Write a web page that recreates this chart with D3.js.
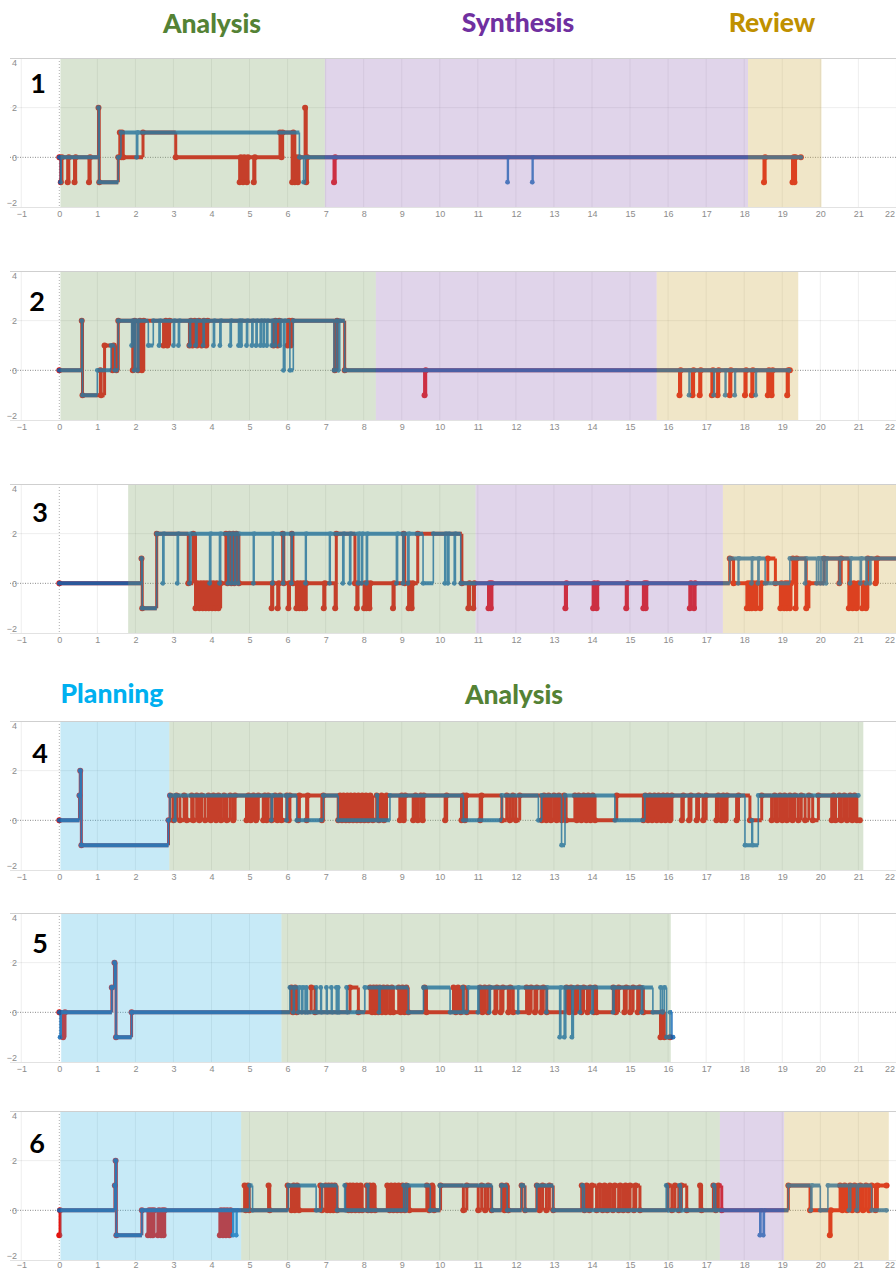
<!DOCTYPE html>
<html>
<head>
<meta charset="utf-8">
<script src="https://cdn.jsdelivr.net/npm/d3@7"></script>
<style>
  html, body { margin: 0; padding: 0; background: #fff; }
  svg { display: block; }
</style>
</head>
<body>
<svg id="chart" width="896" height="1272"></svg>
<script>
// ---- tick labels ----
const xTickLabels = [-1,0,1,2,3,4,5,6,7,8,9,10,11,12,13,14,15,16,17,18,19,20,21,22];
const yTickLabels = [4, 2, 0, -2];
const panelNames = ["1","2","3","4","5","6"];

// ---- phase spans per session: [phase, start, end] ----
const phases1 = [["Analysis",0.03,6.98],["Synthesis",6.98,18.1],["Review",18.1,20.03]];
const phases2 = [["Analysis",0.03,8.32],["Synthesis",8.32,15.7],["Review",15.7,19.42]];
const phases3 = [["Analysis",1.81,10.94],["Synthesis",10.94,17.44],["Review",17.44,22.6]];
const phases4 = [["Planning",0.03,2.89],["Analysis",2.89,21.13]];
const phases5 = [["Planning",0.05,5.84],["Analysis",5.84,16.07]];
const phases6 = [["Planning",0.03,4.78],["Analysis",4.78,17.36],["Synthesis",17.36,19.05],["Review",19.05,21.8]];

// ---- step series: [time, level] ----
const red1 = [[0,0],[0.04,-1],[0.07,0],[0.22,-1],[0.25,0],[0.4,-1],[0.43,0],[0.78,-1],[0.81,0],
  [1.03,2],[1.05,-1],[1.55,0],[1.59,1],[1.63,0],[1.65,1],[1.68,0],[2.2,1],[3.06,0],
  [4.74,-1],[4.77,0],[4.83,-1],[4.86,0],[4.93,-1],[4.96,0],[5.11,-1],[5.14,0],
  [5.8,1],[5.84,0],[5.87,1],[6.12,-1],[6.15,1],[6.19,-1],[6.22,0],[6.27,-1],[6.3,0],[6.46,2],[6.49,-1],[6.52,0],
  [7.22,-1],[7.25,0],[18.52,-1],[18.55,0],[19.27,-1],[19.3,0],[19.32,-1],[19.35,0],[19.49,0]];
const blue1 = [[0,0],[0.03,-1],[0.05,0],[1.03,2],[1.05,-1],[1.55,0],[1.62,1],[2.03,0],[2.06,1],
  [6.31,0],[6.42,-1],[6.47,0],[11.78,-1],[11.8,0],[12.43,-1],[12.45,0],[19.49,0]];

const red2 = [[0,0],[0.59,2],[0.61,-1],[1.08,0],[1.1,-1],[1.19,1],[1.4,0],[1.43,1],[1.5,0],[1.55,2],
  [1.93,0],[1.98,2],[2.07,0],[2.12,2],[2.17,0],[2.22,2],[2.74,1],[2.8,2],[2.84,1],[2.9,2],
  [3.42,1],[3.46,2],[3.5,1],[3.56,2],[3.62,1],[3.67,2],[3.74,1],[3.8,2],[3.86,1],[3.9,2],
  [5.63,1],[5.68,2],[5.74,1],[5.78,2],[6.0,1],[6.04,2],[6.08,1],[6.12,2],[7.24,0],[7.3,2],[7.5,0],
  [9.6,-1],[9.63,0],[16.3,-1],[16.33,0],[16.64,-1],[16.67,0],[16.83,-1],[16.86,0],[17.15,-1],[17.18,0],
  [17.3,-1],[17.33,0],[17.62,-1],[17.65,0],[18.02,-1],[18.05,0],[18.2,-1],[18.23,0],[18.62,-1],[18.65,0],
  [18.72,-1],[18.75,0],[19.13,-1],[19.16,0],[19.2,0]];
const blue2 = [[0,0],[0.59,2],[0.61,-1],[1.0,0],[1.36,1],[1.46,0],[1.55,2],[1.9,1],[1.93,2],[1.97,0],[2.0,2],
  [2.05,0],[2.09,2],[2.34,1],[2.47,2],[2.62,1],[2.65,2],[3.0,1],[3.03,2],[3.13,1],[3.16,2],[3.42,1],[3.45,2],
  [3.58,1],[3.62,2],[3.78,1],[3.81,2],[4.05,1],[4.08,2],[4.22,1],[4.25,2],[4.49,1],[4.52,2],[4.71,1],[4.74,2],
  [4.77,1],[4.8,2],[4.92,1],[4.95,2],[5.06,1],[5.09,2],[5.17,1],[5.2,2],[5.28,1],[5.31,2],[5.36,1],[5.39,2],
  [5.45,1],[5.48,2],[5.58,1],[5.61,2],[5.67,1],[5.7,2],[5.8,1],[5.83,2],[5.89,0],[5.93,2],[6.06,0],[6.15,2],
  [7.22,0],[7.28,2],[7.33,0],[7.37,2],[7.5,0],[16.55,-1],[16.57,0],[17.2,-1],[17.22,0],[17.5,-1],[17.52,0],
  [17.75,-1],[17.77,0],[18.3,-1],[18.32,0],[19.18,0]];

const red3 = [[0,0],[2.16,1],[2.18,-1],[2.56,2],[3.39,0],[3.52,2],[3.58,-1],[3.63,0],[3.68,-1],[3.72,0],
  [3.77,-1],[3.8,0],[3.85,-1],[3.88,0],[3.93,-1],[3.97,0],[4.02,-1],[4.05,0],[4.1,-1],[4.14,0],[4.18,-1],[4.24,0],
  [4.38,2],[4.42,0],[4.47,2],[4.52,0],[4.57,2],[4.6,0],[4.65,2],[4.72,0],[5.58,-1],[5.61,0],[5.74,-1],[5.77,0],
  [5.87,2],[5.9,0],[6.02,-1],[6.05,0],[6.11,2],[6.14,0],[6.23,-1],[6.26,0],[6.31,-1],[6.34,0],[6.39,-1],[6.42,0],
  [6.46,-1],[6.49,0],[6.95,-1],[6.98,0],[7.25,-1],[7.28,2],[7.77,0],[7.82,-1],[7.85,0],[8.01,-1],[8.04,0],
  [8.07,-1],[8.1,0],[8.15,-1],[8.18,0],[8.77,-1],[8.8,0],[9.05,2],[9.08,0],[9.18,-1],[9.21,0],[9.26,-1],[9.29,0],
  [9.42,2],[10.58,0],[10.75,-1],[10.78,0],[10.88,-1],[10.91,0],[11.28,-1],[11.31,0],[11.34,-1],[11.37,0],
  [13.3,-1],[13.33,0],[14.03,-1],[14.06,0],[14.12,-1],[14.15,0],[14.9,-1],[14.93,0],[15.35,-1],[15.38,0],
  [15.41,-1],[15.44,0],[16.57,-1],[16.6,0],[16.68,-1],[16.71,0],[17.62,1],[17.72,0],[18.07,-1],[18.1,0],
  [18.14,-1],[18.17,0],[18.2,-1],[18.24,0],[18.3,-1],[18.33,0],[18.42,-1],[18.46,0],[18.62,1],[18.82,0],
  [18.95,-1],[18.98,0],[19.05,-1],[19.08,0],[19.12,-1],[19.15,0],[19.2,-1],[19.23,0],[19.28,1],[19.35,-1],
  [19.38,1],[19.63,-1],[19.7,0],[20.1,1],[20.5,0],[20.55,1],[20.75,-1],[20.78,0],[20.85,-1],[20.88,0],
  [20.95,-1],[21.0,0],[21.1,-1],[21.14,0],[21.2,-1],[21.25,1],[21.45,0],[21.5,1],[22.2,1]];
const blue3 = [[0,0],[2.16,1],[2.18,-1],[2.56,2],[2.72,0],[2.75,2],[3.1,0],[3.13,2],[3.42,0],[3.46,2],[3.95,0],
  [3.98,2],[4.21,0],[4.24,2],[4.43,0],[4.46,2],[4.52,0],[4.55,2],[4.61,0],[4.64,2],[4.7,0],[4.72,2],[5.1,0],
  [5.12,2],[5.6,0],[5.62,2],[5.88,0],[5.9,2],[6.1,0],[6.12,2],[6.47,0],[6.49,2],[7.1,0],[7.12,2],[7.45,0],
  [7.48,2],[7.63,0],[7.66,2],[7.85,0],[7.88,2],[7.94,0],[7.97,2],[8.07,0],[8.1,2],[8.86,0],[8.89,2],[9.03,0],
  [9.06,2],[9.16,0],[9.19,2],[9.56,0],[9.83,2],[10.13,0],[10.16,2],[10.21,0],[10.24,2],[10.38,0],[10.41,2],
  [10.55,0],[17.62,1],[17.84,0],[17.86,1],[18.19,0],[18.22,1],[18.36,0],[18.39,1],[18.55,0],[19.2,1],[19.6,0],
  [19.63,1],[19.9,0],[19.95,1],[20.0,0],[20.03,1],[20.08,0],[20.1,1],[20.15,0],[20.18,1],[20.5,0],[20.53,1],
  [20.78,0],[20.81,1],[21.05,0],[21.08,1],[21.2,0],[21.23,1],[21.3,0],[21.33,1],[22.2,1]];

const red4 = [[0,0],[0.53,1],[0.55,2],[0.58,-1],[2.87,0],[2.91,1],
  [3.0,0],[3.08,1],[3.17,0],[3.28,1],[3.35,0],[3.48,1],[3.52,0],[3.61,1],[3.68,0],[3.74,1],[3.83,0],[3.92,1],
  [3.98,0],[4.05,1],[4.12,0],[4.18,1],[4.25,0],[4.33,1],[4.4,0],[4.49,1],[4.57,0],[4.62,1],
  [4.92,0],[4.97,1],[5.03,0],[5.1,1],[5.17,0],[5.23,1],[5.36,0],[5.4,1],[5.45,0],[5.49,1],[5.58,0],[5.67,1],
  [5.73,0],[5.8,1],[5.84,0],[5.98,1],[6.03,0],[6.06,1],[6.28,0],[6.31,1],[6.5,0],[6.53,1],[6.9,0],[6.94,1],
  [7.33,0],[7.38,1],[7.43,0],[7.47,1],[7.53,0],[7.57,1],[7.62,0],[7.66,1],[7.72,0],[7.76,1],[7.82,0],[7.86,1],
  [7.92,0],[7.96,1],[8.02,0],[8.06,1],[8.12,0],[8.17,1],[8.24,0],[8.34,1],[8.4,0],[8.47,1],[8.53,0],[8.6,1],
  [8.95,0],[9.0,1],[9.05,0],[9.09,1],[9.3,0],[9.36,1],[9.42,0],[9.5,1],[9.55,0],[9.58,1],[10.14,0],[10.18,1],
  [10.57,0],[10.62,1],[10.66,0],[10.7,1],[11.06,0],[11.1,1],[11.63,0],[11.76,1],[11.84,0],[11.92,1],[12.0,0],
  [12.1,1],[12.68,0],[12.74,1],[12.8,0],[12.86,1],[12.92,0],[13.0,1],[13.07,0],[13.13,1],[13.2,0],[13.27,1],
  [13.32,0],[13.55,1],[13.6,0],[13.65,1],[13.72,0],[13.78,1],[13.85,0],[13.9,1],[13.96,0],[14.02,1],[14.08,0],
  [14.65,1],[15.35,0],[15.4,1],[15.47,0],[15.52,1],[15.58,0],[15.64,1],[15.7,0],[15.75,1],[15.82,0],[15.87,1],
  [15.93,0],[15.98,1],[16.05,0],[16.1,1],[16.36,0],[16.4,1],[16.55,0],[16.6,1],[16.75,0],[16.8,1],[16.92,0],
  [17.0,1],[17.27,0],[17.32,1],[17.4,0],[17.45,1],[17.5,0],[17.55,1],[17.8,0],[17.85,1],[18.15,0],[18.46,1],
  [18.72,0],[18.8,1],[18.86,0],[18.94,1],[19.0,0],[19.06,1],[19.12,0],[19.2,1],[19.27,0],[19.33,1],[19.42,0],
  [19.5,1],[19.6,0],[19.7,1],[19.8,0],[19.95,1],[20.3,0],[20.35,1],[20.4,0],[20.5,1],[20.55,0],[20.63,1],
  [20.7,0],[20.78,1],[20.84,0],[20.9,1],[20.96,0],[21.04,0]];
const blue4 = [[0,0],[0.53,1],[0.55,2],[0.58,-1],[2.87,0],[2.91,1],[3.03,0],[3.06,1],[5.57,0],[5.6,1],
  [5.97,0],[6.0,1],[6.24,0],[6.94,1],[7.33,0],[8.35,1],[8.38,0],[8.69,1],[10.62,0],[11.63,1],[12.59,0],
  [12.68,1],[13.2,-1],[13.29,1],[14.6,0],[15.39,1],[18.02,-1],[18.2,0],[18.22,-1],[18.37,1],[21.0,1]];

const red5 = [[0,0],[0.1,-1],[0.15,0],[1.38,1],[1.45,2],[1.49,-1],[1.9,0],[6.1,1],[6.14,0],[6.2,1],[6.24,0],
  [6.62,1],[6.72,0],[7.64,1],[7.86,0],[8.17,1],[8.22,0],[8.26,1],[8.3,0],[8.34,1],[8.38,0],[8.42,1],[8.48,0],
  [8.52,1],[8.58,0],[8.62,1],[8.7,0],[8.74,1],[8.78,0],[8.92,1],[8.97,0],[9.02,1],[9.07,0],[9.12,1],[9.17,0],
  [9.6,1],[9.65,0],[10.36,1],[10.42,0],[10.48,1],[10.55,0],[10.62,1],[10.71,0],[11.06,1],[11.12,0],[11.18,1],
  [11.26,0],[11.3,1],[11.45,0],[11.5,1],[11.6,0],[11.66,1],[11.8,0],[11.85,1],[11.93,0],[12.28,1],[12.34,0],
  [12.4,1],[12.5,0],[12.55,1],[12.66,0],[12.72,1],[12.81,0],[13.33,1],[13.4,0],[13.45,1],[13.55,0],[13.62,1],
  [13.72,0],[13.78,1],[13.88,0],[13.95,1],[14.05,0],[14.08,1],[14.12,0],[14.56,1],[14.62,0],[14.7,1],[14.85,0],
  [14.9,1],[15.0,0],[15.08,1],[15.2,0],[15.25,1],[15.35,0],[15.8,-1],[15.85,0],[15.9,-1],[16.05,-1]];
const blue5 = [[0,0],[0.02,-1],[0.05,0],[1.38,1],[1.45,2],[1.49,-1],[1.9,0],[6.06,1],[6.15,0],[6.18,1],
  [6.28,0],[6.31,1],[6.37,0],[6.4,1],[6.46,0],[6.49,1],[6.52,0],[6.75,1],[6.77,0],[6.87,1],[6.89,0],[7.02,1],
  [7.04,0],[7.15,1],[7.17,0],[7.28,1],[7.3,0],[7.33,1],[7.35,0],[7.55,1],[7.57,0],[8.03,1],[8.4,0],[8.43,1],
  [9.17,0],[9.57,1],[10.27,0],[10.6,1],[10.63,0],[10.75,1],[11.0,0],[11.03,1],[11.3,0],[11.33,1],[12.05,0],
  [12.07,1],[12.8,0],[12.82,1],[13.15,-1],[13.18,1],[13.27,-1],[13.31,1],[13.47,-1],[13.51,1],[13.68,0],
  [13.7,1],[14.0,0],[14.03,1],[14.55,0],[14.58,1],[15.3,0],[15.33,1],[15.6,0],[15.8,1],[15.85,0],[15.9,1],
  [15.96,-1],[16.05,0],[16.1,-1],[16.13,-1]];

const red6 = [[0,-1],[0.02,0],[1.46,1],[1.48,2],[1.5,-1],[2.17,0],[2.33,-1],[2.36,0],[2.4,-1],[2.43,0],
  [2.46,-1],[2.49,0],[2.59,-1],[2.62,0],[2.68,-1],[2.71,0],[2.74,-1],[2.77,0],[4.22,-1],[4.25,0],[4.3,-1],
  [4.33,0],[4.38,-1],[4.41,0],[4.47,-1],[4.5,0],[4.87,1],[4.9,0],[4.96,1],[4.99,0],[5.5,1],[5.53,0],[6.0,1],
  [6.1,0],[6.16,1],[6.19,0],[6.25,1],[6.3,0],[6.86,1],[6.9,0],[7.0,1],[7.04,0],[7.08,1],[7.12,0],[7.16,1],
  [7.2,0],[7.24,1],[7.3,0],[7.55,1],[7.6,0],[7.64,1],[7.68,0],[7.72,1],[7.78,0],[7.82,1],[7.88,0],[7.92,1],
  [7.96,0],[8.08,1],[8.11,0],[8.16,1],[8.2,0],[8.25,1],[8.3,0],[8.62,1],[8.68,0],[8.72,1],[8.78,0],[8.82,1],
  [8.88,0],[8.92,1],[8.98,0],[9.02,1],[9.08,0],[9.12,1],[9.2,0],[9.66,1],[9.72,0],[9.8,1],[9.85,0],[10.02,1],
  [10.62,0],[10.71,1],[11.01,0],[11.1,1],[11.19,0],[11.27,1],[11.36,0],[11.63,1],[11.7,0],[11.75,1],[11.8,0],
  [12.15,1],[12.24,0],[12.55,1],[12.62,0],[12.7,1],[12.8,0],[12.88,1],[12.98,0],[13.73,1],[13.8,0],[13.86,1],
  [13.93,0],[14.0,1],[14.12,0],[14.2,1],[14.28,0],[14.33,1],[14.4,0],[14.47,1],[14.55,0],[14.6,1],[14.7,0],
  [14.74,1],[14.82,0],[14.88,1],[14.95,0],[15.0,1],[15.1,0],[15.15,1],[15.26,0],[16.0,1],[16.1,0],[16.18,1],
  [16.28,0],[16.35,1],[16.49,0],[16.84,1],[16.88,0],[17.19,1],[17.25,0],[17.32,1],[17.41,0],[19.16,1],
  [19.73,0],[20.25,-1],[20.28,0],[20.52,1],[20.58,0],[20.64,1],[20.7,0],[20.78,1],[20.84,0],[20.9,1],
  [20.98,0],[21.05,1],[21.12,0],[21.2,1],[21.28,0],[21.35,1],[21.45,0],[21.5,1],[21.74,1]];
const blue6 = [[0,0],[1.46,1],[1.48,2],[1.5,-1],[2.17,0],[4.56,-1],[4.58,0],[4.65,-1],[4.67,0],[5.0,1],
  [5.08,0],[6.02,1],[6.75,0],[6.9,1],[7.3,0],[7.5,1],[7.52,0],[8.1,1],[8.13,0],[9.05,1],[9.1,0],[9.15,1],
  [9.75,0],[10.0,1],[11.38,0],[11.62,1],[11.77,0],[12.15,1],[12.24,0],[12.55,1],[12.98,0],[13.75,1],[13.8,0],
  [15.95,1],[16.0,0],[16.3,1],[16.35,0],[17.2,1],[17.25,0],[18.41,-1],[18.44,0],[18.5,-1],[18.53,0],[19.16,1],
  [19.75,0],[19.78,1],[20.0,0],[20.2,1],[20.75,0],[20.8,1],[20.95,0],[21.0,1],[21.35,0],[21.74,0]];

const sessions = [
  { name: panelNames[0], phases: phases1, red: red1, blue: blue1 },
  { name: panelNames[1], phases: phases2, red: red2, blue: blue2 },
  { name: panelNames[2], phases: phases3, red: red3, blue: blue3 },
  { name: panelNames[3], phases: phases4, red: red4, blue: blue4 },
  { name: panelNames[4], phases: phases5, red: red5, blue: blue5 },
  { name: panelNames[5], phases: phases6, red: red6, blue: blue6 }
];

// ---- layout & styles ----
const W = 896;
const panelTops = [58, 271, 484, 721, 913, 1111];
const panelH = 149;
const plotLeft = 10, plotRight = 896;
const numberPos = [[38, 82], [37, 300], [40, 511], [40, 752], [40, 942], [37, 1142]];
const phaseFill = { Planning: "#44b9e4", Analysis: "#80a569", Synthesis: "#9870b9", Review: "#cdac48" };
const redColor = "#e3140f";
const blueColor = "#0a64b4";

const svg = d3.select("#chart");
svg.append("rect").attr("width", W).attr("height", 1272).attr("fill", "#fff");

const x = d3.scaleLinear().domain([0, 22]).range([59.3, 59.3 + 22 * 38.05]);

// phase headings
const headTop = [["Analysis", 212, 33, "#548235"], ["Synthesis", 518, 32, "#7030a0"], ["Review", 772, 32, "#bf9000"]];
const headMid = [["Planning", 112, 703, "#00b0f0"], ["Analysis", 514, 704, "#548235"]];
svg.selectAll("text.head").data(headTop.concat(headMid)).join("text")
  .attr("class", "head")
  .attr("x", d => d[1]).attr("y", d => d[2])
  .attr("text-anchor", "middle")
  .attr("font-family", "Lato, 'Open Sans', sans-serif")
  .attr("font-weight", 900)
  .attr("font-size", 26.5)
  .attr("fill", d => d[3])
  .text(d => d[0]);

function stepPaths(data, y) {
  let h = "", v = "";
  for (let i = 0; i < data.length - 1; i++) {
    const [t0, v0] = data[i], [t1, v1] = data[i + 1];
    h += `M${x(t0)},${y(v0)}H${x(t1)}`;
    if (v1 !== v0) v += `M${x(t1)},${y(v0)}V${y(v1)}`;
  }
  return { h, v };
}

function drawSeries(g, data, y, color, hw, vw, r, opacity) {
  const s = g.append("g").attr("opacity", opacity);
  const p = stepPaths(data, y);
  s.append("path").attr("d", p.h).attr("fill", "none").attr("stroke", color).attr("stroke-width", hw);
  s.append("path").attr("d", p.v).attr("fill", "none").attr("stroke", color).attr("stroke-width", vw);
  s.selectAll("circle").data(data).join("circle")
    .attr("cx", d => x(d[0])).attr("cy", d => y(d[1])).attr("r", r).attr("fill", color);
}

sessions.forEach((s, i) => {
  const top = panelTops[i], bottom = top + panelH;
  const y = d3.scaleLinear().domain([-2, 4]).range([bottom, top]);
  const clipId = "clip" + i;
  svg.append("clipPath").attr("id", clipId)
    .append("rect").attr("x", plotLeft).attr("y", top - 4).attr("width", plotRight - plotLeft).attr("height", panelH + 8);

  const g = svg.append("g").attr("clip-path", `url(#${clipId})`);

  // vertical grid
  g.selectAll("line.vg").data(xTickLabels).join("line")
    .attr("x1", d => x(d)).attr("x2", d => x(d)).attr("y1", top).attr("y2", bottom)
    .attr("stroke", d => d === 0 ? "#9a9a9a" : "#000")
    .attr("stroke-opacity", d => d === 0 ? 0.8 : 0.07)
    .attr("stroke-dasharray", d => d === 0 ? "1,2" : null);
  // horizontal grid
  g.append("line").attr("x1", plotLeft).attr("x2", plotRight).attr("y1", y(2)).attr("y2", y(2))
    .attr("stroke", "#000").attr("stroke-opacity", 0.07);
  g.append("line").attr("x1", plotLeft).attr("x2", plotRight).attr("y1", y(0)).attr("y2", y(0))
    .attr("stroke", "#8a8a8a").attr("stroke-dasharray", "1,1.5");
  g.append("line").attr("x1", plotLeft).attr("x2", plotRight).attr("y1", bottom + 0.5).attr("y2", bottom + 0.5)
    .attr("stroke", "#e2e2e2");

  // series
  drawSeries(g, s.red, y, redColor, 4, 3, 3, 1);
  drawSeries(g, s.blue, y, blueColor, 4, 1.6, 2.4, 0.85);

  // phase tint over the data
  g.selectAll("rect.phase").data(s.phases).join("rect")
    .attr("class", "phase")
    .attr("x", d => x(d[1])).attr("width", d => Math.min(x(d[2]), plotRight) - x(d[1]))
    .attr("y", top + 1).attr("height", panelH - 1)
    .attr("fill", d => phaseFill[d[0]]).attr("fill-opacity", 0.3);

  // top border
  svg.append("line").attr("x1", plotLeft).attr("x2", plotRight).attr("y1", top + 0.5).attr("y2", top + 0.5)
    .attr("stroke", "#cfcfcf");

  // x axis (the last panel sits close to the page foot, so its labels hug the plot)
  const pad = i === sessions.length - 1 ? 2 : 4;
  const xa = svg.append("g").attr("transform", `translate(0,${bottom})`)
    .call(d3.axisBottom(x).tickValues(xTickLabels).tickSize(0).tickPadding(pad).tickFormat(d3.format("d")));
  xa.select(".domain").remove();
  xa.selectAll("text").attr("font-family", "'Liberation Sans', Arial, sans-serif").attr("font-size", 9).attr("fill", "#8c8c8c");
  xa.selectAll(".tick").filter(d => d === 22).select("text").attr("text-anchor", "end").attr("dx", -2);

  // y axis
  const ya = svg.append("g").attr("transform", "translate(20,0)")
    .call(d3.axisLeft(y).tickValues(yTickLabels).tickSize(0).tickPadding(3).tickFormat(d3.format("d")));
  ya.select(".domain").remove();
  ya.selectAll("text").attr("font-family", "'Liberation Sans', Arial, sans-serif").attr("font-size", 9).attr("fill", "#8c8c8c");
  ya.selectAll(".tick").filter(d => d === 4).select("text").attr("dy", "0.8em");
  ya.selectAll(".tick").filter(d => d === -2).select("text").attr("dy", "-0.2em");

  // session number
  svg.append("text").attr("x", numberPos[i][0]).attr("y", numberPos[i][1])
    .attr("text-anchor", "middle").attr("dominant-baseline", "central")
    .attr("font-family", "Lato, 'Open Sans', sans-serif").attr("font-weight", 700).attr("font-size", 27)
    .attr("fill", "#000").text(s.name);
});
</script>
</body>
</html>
